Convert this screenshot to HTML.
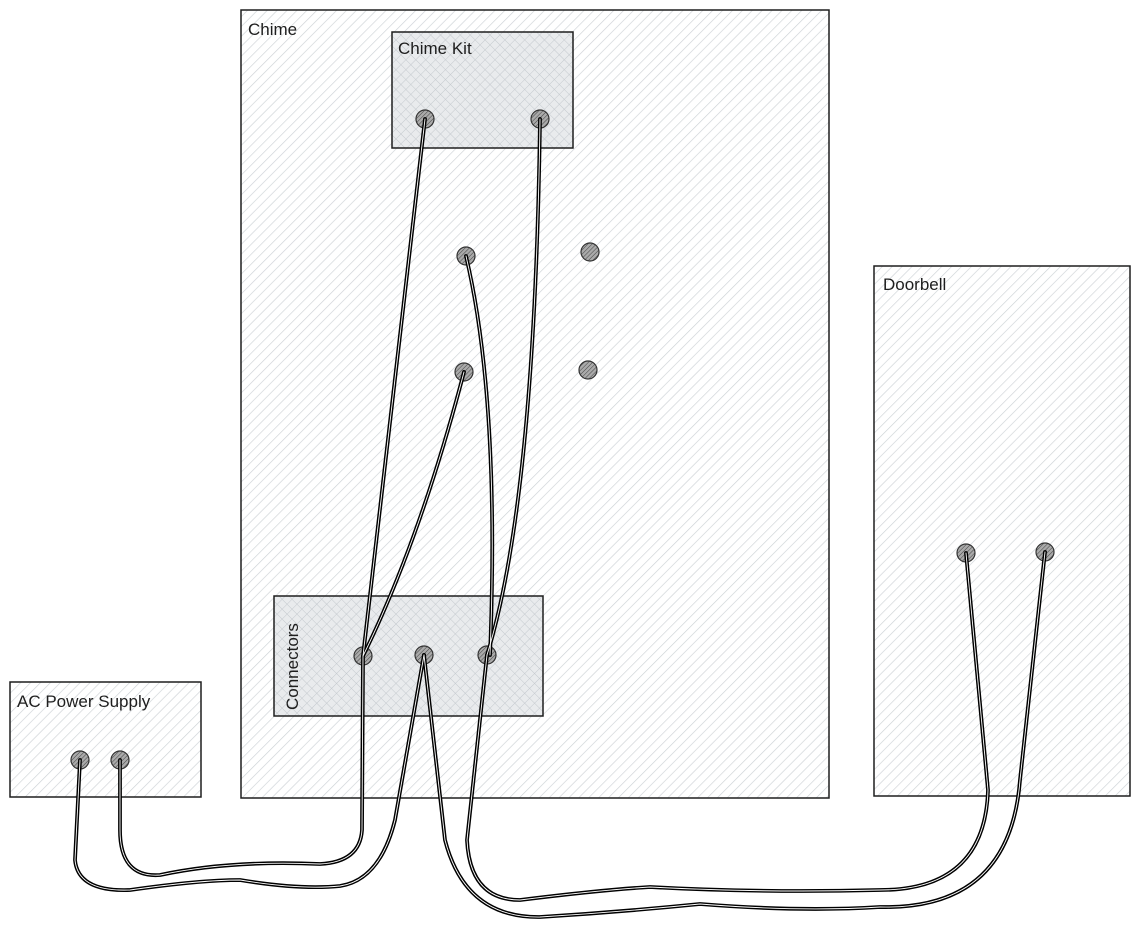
<!DOCTYPE html>
<html><head><meta charset="utf-8"><style>
html,body{margin:0;padding:0;background:#fff;}
svg{display:block}
text{font-family:"Liberation Sans",sans-serif;font-size:17px;fill:#1e1e1e}
</style></head><body>
<svg width="1140" height="927" viewBox="0 0 1140 927" xmlns="http://www.w3.org/2000/svg">
<defs>
<pattern id="h" width="7" height="7" patternUnits="userSpaceOnUse" patternTransform="rotate(45)">
<rect width="7" height="7" fill="#fff"/><line x1="0" y1="0" x2="0" y2="7" stroke="#cdd2d6" stroke-width="1.3"/>
</pattern>
<pattern id="x" width="7" height="7" patternUnits="userSpaceOnUse" patternTransform="rotate(45)">
<rect width="7" height="7" fill="#e9ebed"/><line x1="0" y1="0" x2="0" y2="7" stroke="#c4c9ce" stroke-width="1"/><line x1="0" y1="0" x2="7" y2="0" stroke="#c4c9ce" stroke-width="1"/>
</pattern>
<pattern id="d" width="3" height="3" patternUnits="userSpaceOnUse" patternTransform="rotate(45)">
<rect width="3" height="3" fill="#aaa"/><line x1="0" y1="0" x2="0" y2="3" stroke="#444" stroke-width="1"/>
</pattern>
</defs>
<g stroke="#1e1e1e" stroke-width="1.5">
<rect x="241" y="10" width="588" height="788" fill="url(#h)"/>
<rect x="874" y="266" width="256" height="530" fill="url(#h)"/>
<rect x="10" y="682" width="191" height="115" fill="url(#h)"/>
<rect x="392" y="32" width="181" height="116" fill="url(#x)"/>
<rect x="274" y="596" width="269" height="120" fill="url(#x)"/>
</g>
<text x="248" y="35">Chime</text>
<text x="398" y="54">Chime Kit</text>
<text x="883" y="290">Doorbell</text>
<text x="17" y="707">AC Power Supply</text>
<text transform="translate(298,710) rotate(-90)">Connectors</text>
<g fill="url(#d)" stroke="#333" stroke-width="1.2">
<circle cx="425" cy="119" r="9"/><circle cx="540" cy="119" r="9"/>
<circle cx="466" cy="256" r="9"/><circle cx="590" cy="252" r="9"/>
<circle cx="464" cy="372" r="9"/><circle cx="588" cy="370" r="9"/>
<circle cx="363" cy="656" r="9"/><circle cx="424" cy="655" r="9"/><circle cx="487" cy="655" r="9"/>
<circle cx="80" cy="760" r="9"/><circle cx="120" cy="760" r="9"/>
<circle cx="966" cy="553" r="9"/><circle cx="1045" cy="552" r="9"/>
</g>
<g fill="none" stroke-linecap="round">
<g stroke="#000" stroke-width="3.8">
<path d="M425 119 L363 656 L362 830 Q360 862 320 864 Q230 860 160 875 Q120 878 120 830 L120 760"/>
<path d="M80 760 L75 860 Q78 892 130 890 Q200 880 240 880 Q300 890 340 886 Q380 880 395 820 L424 655"/>
<path d="M424 655 L445 840 Q465 918 540 917 Q620 912 700 904 Q800 912 880 907 Q1010 910 1020 780 L1045 552"/>
<path d="M487 655 L467 840 Q470 900 520 900 Q600 890 650 887 Q760 893 880 890 Q985 890 988 790 L966 553"/>
<path d="M540 119 Q535 500 487 655"/>
<path d="M466 256 Q500 400 490 655"/>
<path d="M464 372 Q420 540 363 656"/>
</g>
<g stroke="#fff" stroke-width="0.9">
<path d="M425 119 L363 656 L362 830 Q360 862 320 864 Q230 860 160 875 Q120 878 120 830 L120 760"/>
<path d="M80 760 L75 860 Q78 892 130 890 Q200 880 240 880 Q300 890 340 886 Q380 880 395 820 L424 655"/>
<path d="M424 655 L445 840 Q465 918 540 917 Q620 912 700 904 Q800 912 880 907 Q1010 910 1020 780 L1045 552"/>
<path d="M487 655 L467 840 Q470 900 520 900 Q600 890 650 887 Q760 893 880 890 Q985 890 988 790 L966 553"/>
<path d="M540 119 Q535 500 487 655"/>
<path d="M466 256 Q500 400 490 655"/>
<path d="M464 372 Q420 540 363 656"/>
</g>
</g>
</svg>
</body></html>
